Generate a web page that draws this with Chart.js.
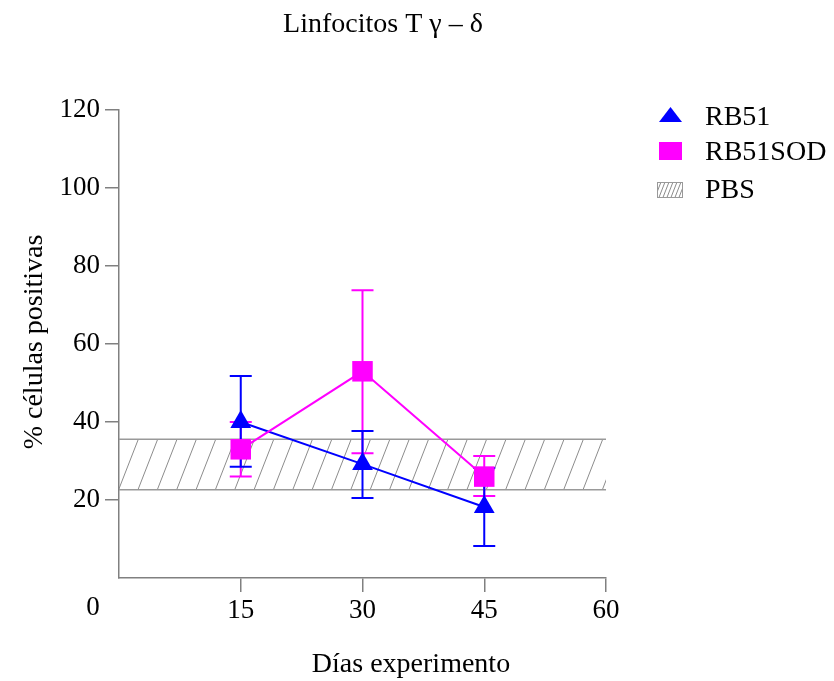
<!DOCTYPE html>
<html>
<head>
<meta charset="utf-8">
<script src="https://cdn.jsdelivr.net/npm/chart.js@4.4.1/dist/chart.umd.min.js"></script>
<style>
  html, body { margin: 0; padding: 0; background: #fff; }
  #wrap { width: 834px; height: 681px; }
</style>
</head>
<body>
<div id="wrap"><canvas id="chart" width="834" height="681"></canvas></div>
<script>
// datos
const dias = [15, 30, 45];
const rb51 = [40, 29.2, 18.2];
const rb51Low = [28.5, 20.5, 8.2];
const rb51High = [51.8, 37.7, 28.2];
const rb51sod = [33, 53, 26];
const rb51sodLow = [26, 32, 21];
const rb51sodHigh = [40, 73.8, 31.3];
const pbsRange = [22.6, 35.6];
const xTicks = [0, 15, 30, 45, 60];
const yTicks = [20, 40, 60, 80, 100, 120];

const AZUL = '#0000ff';
const MAGENTA = '#ff00ff';
const GRIS = '#808080';
const SERIF = '"Liberation Serif", "Times New Roman", serif';

function hatch(ctx, x0, y0, x1, y1, step) {
    ctx.save();
    ctx.beginPath();
    ctx.rect(x0, y0, x1 - x0, y1 - y0);
    ctx.clip();
    ctx.strokeStyle = '#8c8c8c';
    ctx.lineWidth = 1;
    const h = y1 - y0;
    const dx = h * 0.39;
    for (let x = x0 - dx - step; x < x1 + step; x += step) {
        ctx.beginPath();
        ctx.moveTo(x, y1);
        ctx.lineTo(x + dx, y0);
        ctx.stroke();
    }
    ctx.restore();
}

// banda PBS (debajo de las series)
const pbsBand = {
    id: 'pbsBand',
    beforeDatasetsDraw(chart) {
        const { ctx, chartArea, scales: { y } } = chart;
        const top = y.getPixelForValue(pbsRange[1]);
        const bot = y.getPixelForValue(pbsRange[0]);
        hatch(ctx, chartArea.left, top, chartArea.right, bot, 19.35);
        ctx.save();
        ctx.strokeStyle = '#999';
        ctx.lineWidth = 1.5;
        ctx.beginPath();
        ctx.moveTo(chartArea.left, top); ctx.lineTo(chartArea.right, top);
        ctx.moveTo(chartArea.left, bot); ctx.lineTo(chartArea.right, bot);
        ctx.stroke();
        ctx.restore();
    }
};

// barras de error
const errorBars = {
    id: 'errorBars',
    beforeDatasetsDraw(chart) {
        const { ctx, scales: { x, y } } = chart;
        const series = [
            { low: rb51sodLow, high: rb51sodHigh, color: MAGENTA },
            { low: rb51Low, high: rb51High, color: AZUL }
        ];
        ctx.save();
        ctx.lineWidth = 2;
        series.forEach(s => {
            ctx.strokeStyle = s.color;
            dias.forEach((d, i) => {
                const px = x.getPixelForValue(d);
                const yl = y.getPixelForValue(s.low[i]);
                const yh = y.getPixelForValue(s.high[i]);
                ctx.beginPath();
                ctx.moveTo(px, yl); ctx.lineTo(px, yh);
                ctx.moveTo(px - 11, yl); ctx.lineTo(px + 11, yl);
                ctx.moveTo(px - 11, yh); ctx.lineTo(px + 11, yh);
                ctx.stroke();
            });
        });
        ctx.restore();
    }
};

// titulo, leyenda y textos sueltos
const textos = {
    id: 'textos',
    afterDraw(chart) {
        const { ctx, scales: { x } } = chart;
        ctx.save();
        ctx.fillStyle = '#000';
        ctx.font = '28px ' + SERIF;
        ctx.textBaseline = 'alphabetic';
        ctx.textAlign = 'center';
        ctx.fillText('Linfocitos T \u03B3 \u2013 \u03B4', 383, 32);
        ctx.fillText('D\u00EDas experimento', 411, 672);

        ctx.save();
        ctx.translate(42, 342);
        ctx.rotate(-Math.PI / 2);
        ctx.fillText('% c\u00E9lulas positivas', 0, 0);
        ctx.restore();

        // "0" en la esquina
        ctx.font = '27px ' + SERIF;
        ctx.textBaseline = 'middle';
        ctx.fillText('0', x.getPixelForValue(0) - 26, 608);

        // leyenda
        ctx.textAlign = 'left';
        ctx.textBaseline = 'alphabetic';
        ctx.font = '28px ' + SERIF;
        ctx.fillStyle = AZUL;
        ctx.beginPath();
        ctx.moveTo(670.5, 107);
        ctx.lineTo(682, 122);
        ctx.lineTo(659, 122);
        ctx.closePath();
        ctx.fill();
        ctx.fillStyle = MAGENTA;
        ctx.fillRect(659, 142, 23, 18);
        hatch(ctx, 657, 182, 683, 198, 4);
        ctx.strokeStyle = '#999';
        ctx.lineWidth = 1;
        ctx.strokeRect(657.5, 182.5, 25, 15);
        ctx.fillStyle = '#000';
        ctx.fillText('RB51', 705, 125);
        ctx.fillText('RB51SOD', 705, 160);
        ctx.fillText('PBS', 705, 198);
        ctx.restore();
    }
};

const ctx = document.getElementById('chart').getContext('2d');
new Chart(ctx, {
    type: 'scatter',
    data: {
        datasets: [
            {
                label: 'RB51SOD',
                data: dias.map((d, i) => ({ x: d, y: rb51sod[i] })),
                showLine: true,
                borderColor: MAGENTA,
                backgroundColor: MAGENTA,
                borderWidth: 2,
                pointStyle: 'rect',
                pointRadius: 14.5,
                pointBorderWidth: 0,
                pointBackgroundColor: MAGENTA
            },
            {
                label: 'RB51',
                data: dias.map((d, i) => ({ x: d, y: rb51[i] })),
                showLine: true,
                borderColor: AZUL,
                backgroundColor: AZUL,
                borderWidth: 2,
                pointStyle: 'triangle',
                pointRadius: 12,
                pointBorderWidth: 0,
                pointBackgroundColor: AZUL
            }
        ]
    },
    options: {
        responsive: false,
        animation: false,
        layout: { padding: { top: 110, right: 228, left: 0, bottom: 0 } },
        plugins: {
            legend: { display: false },
            title: { display: false },
            tooltip: { enabled: false }
        },
        scales: {
            x: {
                type: 'linear',
                min: 0,
                max: 60,
                afterBuildTicks: s => { s.ticks = xTicks.filter(v => v !== 0).map(v => ({ value: v })); },
                afterFit: s => { s.height = 103; },
                border: { color: GRIS, width: 1.5 },
                grid: { drawOnChartArea: false, drawTicks: true, tickLength: 14, color: GRIS, lineWidth: 1.5 },
                ticks: { color: '#000', padding: 3, font: { family: SERIF, size: 27 } }
            },
            y: {
                min: 0,
                max: 120,
                afterBuildTicks: s => { s.ticks = yTicks.map(v => ({ value: v })); },
                afterFit: s => { s.width = 119; },
                border: { color: GRIS, width: 1.5 },
                grid: { drawOnChartArea: false, drawTicks: true, tickLength: 14, color: GRIS, lineWidth: 1.5 },
                ticks: { color: '#000', padding: 5, font: { family: SERIF, size: 27 } }
            }
        }
    },
    plugins: [pbsBand, errorBars, textos]
});
</script>
</body>
</html>
